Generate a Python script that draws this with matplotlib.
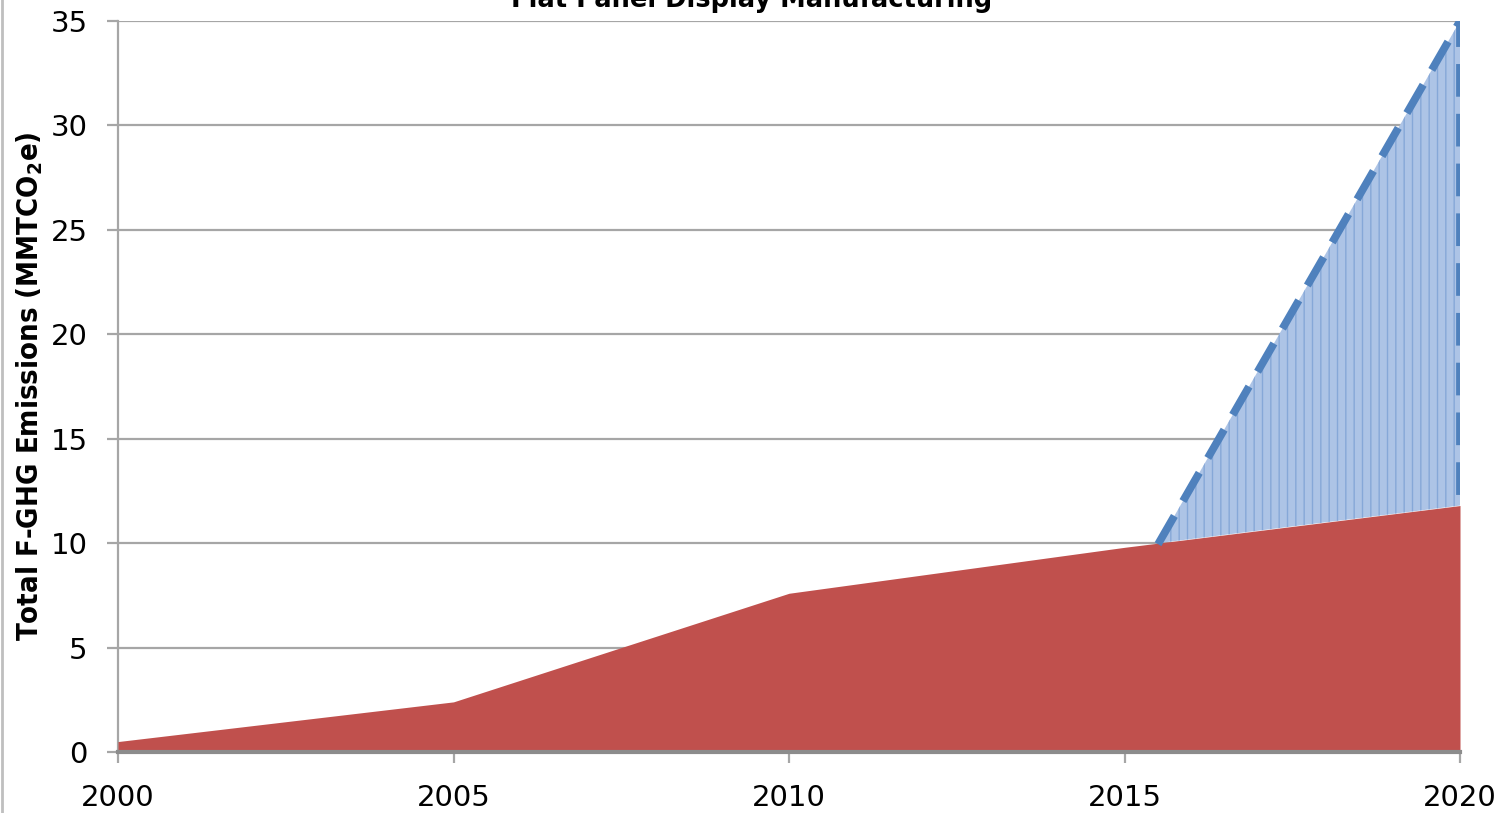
"""Flat panel display F-GHG emissions: historical area plus projected range."""
import matplotlib
matplotlib.use("Agg")
import matplotlib.pyplot as plt
import numpy as np

# historical / baseline emissions (MMTCO2e)
years = [2000, 2005, 2010, 2015, 2020]
baseline = [0.5, 2.4, 7.6, 9.8, 11.8]

# projected upper range (starts where it leaves the baseline)
proj_years = [2015.5, 2020]
proj_upper = [9.95, 35.0]

y_ticks = [0, 5, 10, 15, 20, 25, 30, 35]
x_ticks = [2000, 2005, 2010, 2015, 2020]

RED = "#c0504d"
BLUE_EDGE = "#4f81bd"
BLUE_FILL = "#adc4e6"
GRID = "#a6a6a6"

plt.rcParams["hatch.linewidth"] = 1.0
plt.rcParams["hatch.color"] = "#86a8d8"

fig = plt.figure(figsize=(14.95, 8.13), dpi=100)
ax = fig.add_axes([118 / 1495, 1 - 752 / 813, (1460 - 118) / 1495, (752 - 21) / 813])

# projected band: from baseline up to upper projection
proj_lower = np.interp(proj_years, years, baseline)
ax.fill_between(proj_years, proj_lower, proj_upper, facecolor=BLUE_FILL,
                edgecolor="none", hatch="||", zorder=2)
ax.plot(proj_years + [proj_years[-1]], proj_upper + [baseline[-1]],
        color=BLUE_EDGE, lw=5.6, dashes=(4.2, 2.2), solid_capstyle="butt",
        dash_capstyle="butt", zorder=4)

ax.fill_between(years, 0, baseline, color=RED, lw=0, zorder=3)

ax.set_xlim(2000, 2020)
ax.set_ylim(0, 35)
ax.set_xticks(x_ticks)
ax.set_yticks(y_ticks)
ax.yaxis.grid(True, color=GRID, lw=1.6)
ax.set_axisbelow(True)

for side in ("top", "right"):
    ax.spines[side].set_visible(False)
ax.spines["left"].set_color(GRID)
ax.spines["left"].set_linewidth(1.6)
ax.spines["bottom"].set_color("#8c8c8c")
ax.spines["bottom"].set_linewidth(3)
ax.spines["bottom"].set_zorder(5)

ax.tick_params(axis="both", colors=GRID, labelcolor="black", labelsize=21,
               length=8, width=1.6)
ax.tick_params(axis="y", pad=14)
ax.tick_params(axis="x", pad=15)

ax.set_ylabel("Total F-GHG Emissions (MMTCO$_\\mathregular{2}$e)", fontsize=21,
              fontweight="bold", fontstretch="condensed", labelpad=4)

fig.text(0.503, 1 - 7 / 813, "Flat Panel Display Manufacturing", ha="center",
         va="baseline", fontsize=18.5, fontweight="bold")

# outer chart border on the left
fig.add_artist(plt.Line2D([2 / 1495, 2 / 1495], [0, 1], color="#bfbfbf", lw=2))

fig.savefig("out.png", dpi=100)
